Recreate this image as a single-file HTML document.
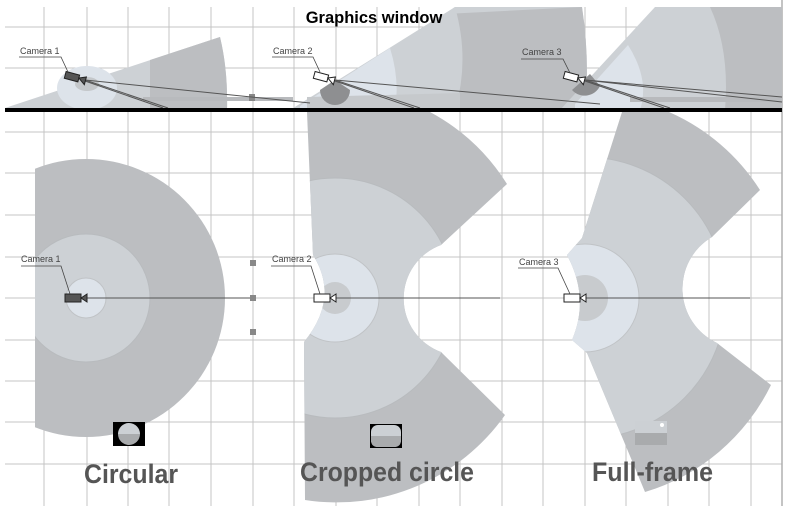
<!DOCTYPE html>
<html><head><meta charset="utf-8"><style>
html,body{margin:0;padding:0;background:#fff;}
svg{display:block;}
text{font-family:"Liberation Sans",sans-serif;}
</style></head><body>
<svg width="786" height="506" viewBox="0 0 786 506" xmlns="http://www.w3.org/2000/svg">
<defs>
<clipPath id="topclip"><rect x="5" y="7" width="777" height="102"/></clipPath>
<clipPath id="c1"><rect x="35" y="112" width="300" height="394"/></clipPath>
<clipPath id="c2"><path d="M307,112 L430,112 A206,206 0 0 1 507,184 L441,245 A57,57 0 0 0 441,352 L505,415 A206,206 0 0 1 305,500 L304,342 Q340,298 313,255 Z"/></clipPath>
<clipPath id="c3"><path d="M622,112 L669,112 A206,206 0 0 1 760,190 L712,237 A60,60 0 0 0 717,343 L771,385 A206,206 0 0 1 645,492 L587,353 L572,340 Q590,298 567,255 L582,238 Z"/></clipPath>
</defs>
<g stroke="#c4c4c4" stroke-width="1">
<line x1="5" y1="27" x2="782" y2="27"/><line x1="5" y1="68" x2="782" y2="68"/>
<line x1="5" y1="132" x2="782" y2="132"/><line x1="5" y1="173" x2="782" y2="173"/>
<line x1="5" y1="215" x2="782" y2="215"/><line x1="5" y1="257" x2="782" y2="257"/>
<line x1="5" y1="298" x2="782" y2="298"/><line x1="5" y1="340" x2="782" y2="340"/>
<line x1="5" y1="381" x2="782" y2="381"/><line x1="5" y1="422" x2="782" y2="422"/>
<line x1="5" y1="464" x2="782" y2="464"/>
<line x1="44" y1="7" x2="44" y2="506"/><line x1="87" y1="7" x2="87" y2="506"/>
<line x1="128" y1="7" x2="128" y2="506"/><line x1="169" y1="7" x2="169" y2="506"/>
<line x1="211" y1="7" x2="211" y2="506"/><line x1="253" y1="7" x2="253" y2="506"/>
<line x1="294" y1="7" x2="294" y2="506"/><line x1="336" y1="7" x2="336" y2="506"/>
<line x1="377" y1="7" x2="377" y2="506"/><line x1="419" y1="7" x2="419" y2="506"/>
<line x1="460" y1="7" x2="460" y2="506"/><line x1="502" y1="7" x2="502" y2="506"/>
<line x1="543" y1="7" x2="543" y2="506"/><line x1="585" y1="7" x2="585" y2="506"/>
<line x1="626" y1="7" x2="626" y2="506"/><line x1="668" y1="7" x2="668" y2="506"/>
<line x1="709" y1="7" x2="709" y2="506"/><line x1="751" y1="7" x2="751" y2="506"/>
</g>
<line x1="782" y1="0" x2="782" y2="506" stroke="#b0b0b0" stroke-width="1.5"/>

<g clip-path="url(#topclip)">
 <path d="M5,108 L220,37 Q228,70 227,110 L5,110 Z" fill="#cdd1d5"/>
 <path d="M150,60 L220,37 Q228,70 227,110 L150,110 Z" fill="#bcbec1"/>
 <ellipse cx="87" cy="88" rx="30" ry="22" fill="#dde3ea"/>
 <ellipse cx="87" cy="84" rx="12" ry="7" fill="#c4c7ca"/>
 <rect x="143" y="97" width="150" height="4" fill="#b8babd"/>
 <rect x="249" y="94" width="6" height="7" fill="#888"/>
 <path d="M290,110 L455,7 L582,7 Q590,60 585,110 Z" fill="#cdd1d5"/>
 <path d="M445,14 L582,7 Q590,60 585,110 L445,110 Z" fill="#bcbec1"/>
 <path d="M455,7 L445,14 L445,110 L455,110 Q470,60 455,7Z" fill="#cdd1d5"/>
 <path d="M300,106 L390,48 Q400,80 395,110 L300,110 Z" fill="#dde3ea"/>
 <path d="M307,97 L460,93 L460,110 L307,110Z" fill="#c6c9cc"/>
 <path d="M320,90 A15,15 0 0 0 350,90 L335,80 Z" fill="#8e8f91"/>
 <path d="M560,110 L655,7 L782,7 L782,110 Z" fill="#cdd1d5"/>
 <path d="M710,7 L782,7 L782,110 L725,110 Q730,50 710,7Z" fill="#bcbec1"/>
 <path d="M575,104 L628,45 Q650,80 640,110 L575,110 Z" fill="#dde3ea"/>
 <rect x="630" y="97" width="152" height="5" fill="#b8babd"/>
 <path d="M572,90 A17,17 0 0 0 600,86 L590,74 Z" fill="#8e8f91"/>
</g>
<g stroke="#555" stroke-width="1" fill="none">
 <line x1="85" y1="80" x2="310" y2="103"/><line x1="85" y1="80" x2="168" y2="108"/><line x1="85" y1="81" x2="163" y2="108"/>
 <line x1="335" y1="80" x2="600" y2="104"/><line x1="335" y1="80" x2="420" y2="108"/><line x1="335" y1="81" x2="414" y2="108"/>
 <line x1="585" y1="80" x2="782" y2="97"/><line x1="585" y1="80" x2="782" y2="102"/><line x1="585" y1="80" x2="670" y2="108"/><line x1="585" y1="81" x2="664" y2="108"/>
</g>
<g transform="translate(75,77) rotate(15)"><rect x="-10" y="-3" width="14" height="7" fill="#555" stroke="#222"/><path d="M4,0 L11,-3 L11,5 Z" fill="#555" stroke="#222"/></g>
<g transform="translate(324,77) rotate(15)"><rect x="-10" y="-3" width="14" height="7" fill="#fff" stroke="#222"/><path d="M4,0 L11,-3 L11,5 Z" fill="#fff" stroke="#222"/></g>
<g transform="translate(574,77) rotate(15)"><rect x="-10" y="-3" width="14" height="7" fill="#fff" stroke="#222"/><path d="M4,0 L11,-3 L11,5 Z" fill="#fff" stroke="#222"/></g>
<g font-size="9" fill="#444">
 <text x="20" y="54">Camera 1</text><text x="273" y="54">Camera 2</text><text x="522" y="55">Camera 3</text>
</g>
<g stroke="#444" stroke-width="0.8" fill="none">
 <polyline points="19,57 61,57 68,72"/><polyline points="272,57 313,57 320,72"/><polyline points="521,59 563,59 570,73"/>
</g>
<rect x="5" y="108" width="777" height="4" fill="#000"/>
<text x="374" y="23" font-size="16.5" font-weight="bold" text-anchor="middle" fill="#000">Graphics window</text>

<g clip-path="url(#c1)">
 <circle cx="86" cy="298" r="139" fill="#bcbec1"/>
 <circle cx="86" cy="298" r="64" fill="#cdd1d5" stroke="#b8bbbe"/>
 <circle cx="86" cy="298" r="20" fill="#dde3ea" stroke="#c0c3c6"/>
</g>
<line x1="86" y1="298" x2="253" y2="298" stroke="#555"/>
<rect x="250" y="260" width="6" height="6" fill="#888"/><rect x="250" y="295" width="6" height="6" fill="#888"/><rect x="250" y="329" width="6" height="6" fill="#888"/>
<rect x="65" y="294" width="16" height="8" fill="#555" stroke="#222"/><path d="M81,298 L87,294 L87,302 Z" fill="#555" stroke="#222"/>

<g clip-path="url(#c2)">
 <rect x="290" y="110" width="240" height="400" fill="#bcbec1"/>
 <circle cx="335" cy="298" r="120" fill="#cdd1d5" stroke="#b8bbbe"/>
 <circle cx="335" cy="298" r="44" fill="#dde3ea" stroke="#c0c3c6"/>
 <circle cx="335" cy="298" r="16" fill="#c8cbce"/>
</g>
<line x1="335" y1="298" x2="500" y2="298" stroke="#555"/>
<rect x="314" y="294" width="16" height="8" fill="#fff" stroke="#222"/><path d="M330,298 L336,294 L336,302 Z" fill="#fff" stroke="#222"/>

<g clip-path="url(#c3)">
 <rect x="540" y="110" width="242" height="400" fill="#bcbec1"/>
 <circle cx="585" cy="298" r="141" fill="#cdd1d5" stroke="#b8bbbe"/>
 <circle cx="585" cy="298" r="54" fill="#dde3ea" stroke="#c0c3c6"/>
 <circle cx="585" cy="298" r="23" fill="#c8cbce"/>
</g>
<line x1="585" y1="298" x2="750" y2="298" stroke="#555"/>
<rect x="564" y="294" width="16" height="8" fill="#fff" stroke="#222"/><path d="M580,298 L586,294 L586,302 Z" fill="#fff" stroke="#222"/>

<g font-size="9" fill="#444">
 <text x="21" y="262">Camera 1</text><text x="272" y="262">Camera 2</text><text x="519" y="265">Camera 3</text>
</g>
<g stroke="#444" stroke-width="0.8" fill="none">
 <polyline points="21,266 61,266 70,294"/><polyline points="271,266 311,266 320,294"/><polyline points="518,268 558,268 570,294"/>
</g>

<rect x="113" y="422" width="32" height="24" fill="#000"/>
<path d="M118,434 A11,11 0 0 1 140,434 Z" fill="#ccd0d4"/><path d="M118,434 A11,11 0 0 0 140,434 Z" fill="#a9abad"/>
<rect x="370" y="424" width="32" height="24" fill="#000"/>
<rect x="371" y="425" width="30" height="22" rx="7" fill="#ccd0d4"/><path d="M371,436 L401,436 L401,440 Q401,447 394,447 L378,447 Q371,447 371,440Z" fill="#a9abad"/>
<rect x="635" y="421" width="32" height="12" fill="#ccd0d4"/><rect x="635" y="433" width="32" height="12" fill="#a9abad"/>
<circle cx="662" cy="425" r="2" fill="#fff"/>

<g font-size="27" font-weight="bold" fill="#555">
 <text x="84" y="483" textLength="94" lengthAdjust="spacingAndGlyphs">Circular</text>
 <text x="300" y="481" textLength="174" lengthAdjust="spacingAndGlyphs">Cropped circle</text>
 <text x="592" y="481" textLength="121" lengthAdjust="spacingAndGlyphs">Full-frame</text>
</g>
</svg>
</body></html>
